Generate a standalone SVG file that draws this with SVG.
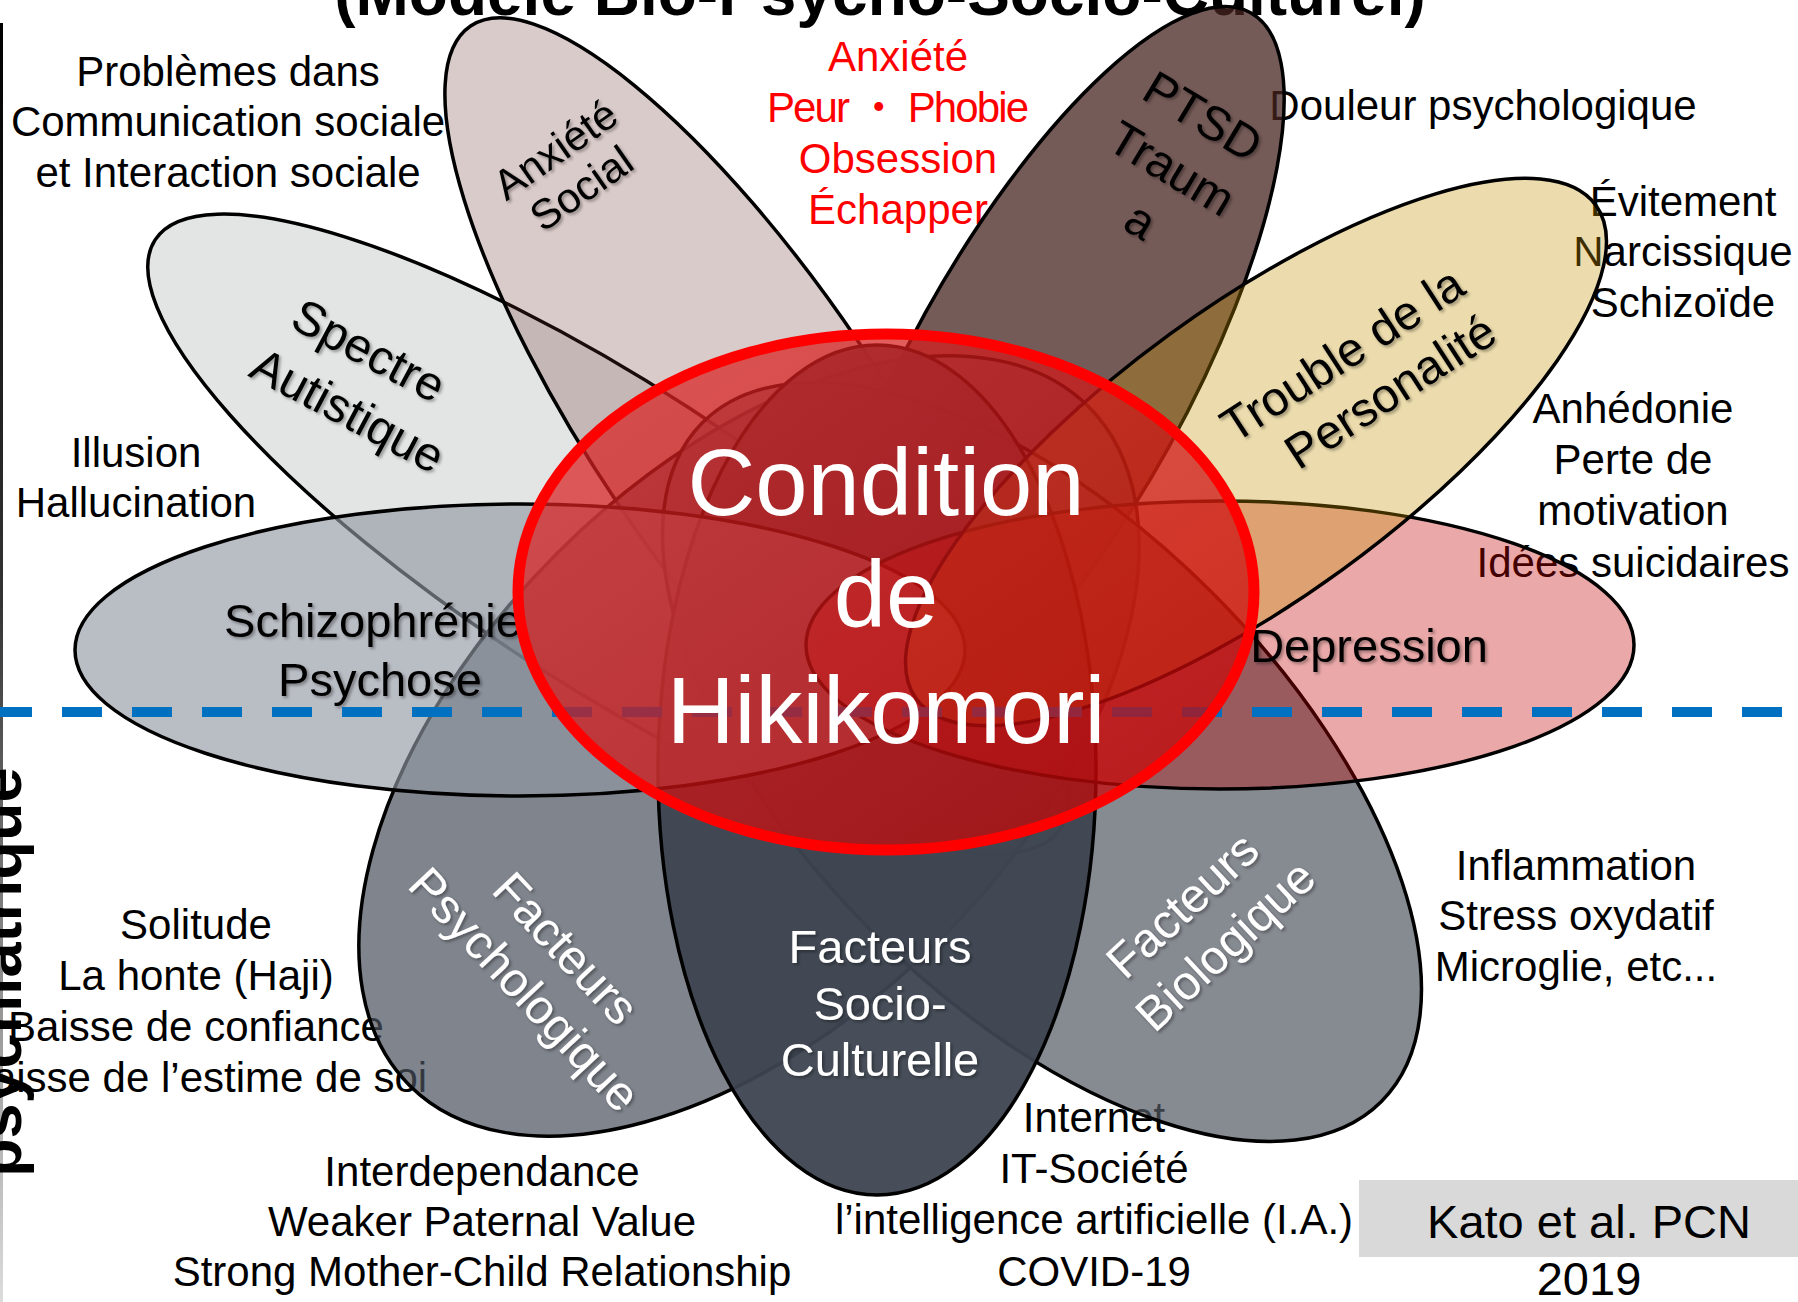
<svg xmlns="http://www.w3.org/2000/svg" width="1798" height="1302" viewBox="0 0 1798 1302">
<defs>
  <linearGradient id="leftLine" x1="0" y1="0" x2="0" y2="1">
    <stop offset="0" stop-color="#000"/>
    <stop offset="0.45" stop-color="#333"/>
    <stop offset="1" stop-color="#dcdcdc"/>
  </linearGradient>
  <linearGradient id="core" x1="0" y1="0" x2="1" y2="1">
    <stop offset="0" stop-color="rgb(222,40,40)"/>
    <stop offset="1" stop-color="rgb(195,0,0)"/>
  </linearGradient>
  <filter id="shadow" x="-10%" y="-20%" width="130%" height="150%">
    <feDropShadow dx="2" dy="2" stdDeviation="1.5" flood-color="#000" flood-opacity="0.35"/>
  </filter>
</defs>
<style>
  .t{font-family:"Liberation Sans",Arial,"Noto Sans CJK JP",sans-serif;font-size:42px;fill:#000;text-anchor:middle}
  .red{fill:#ff0000}
  .m{font-size:47px}
  .lbl{font-size:48px}
  .w{fill:#fff}
  .sh{filter:url(#shadow)}
  .big{font-size:94px;fill:#fff}
  .title{font-weight:bold;font-size:64px}
  .vert{font-weight:bold;font-size:63px;text-anchor:start}
  .petal{stroke:#000;stroke-width:3.5}
</style>
<rect width="1798" height="1302" fill="#fff"/>

<g id="title">
  <text class="t title" x="880" y="15">(Modèle Bio-Psycho-Socio-Culturel)</text>
</g>
<rect id="left-rule" x="0" y="23" width="3" height="1279" fill="url(#leftLine)"/>

<g id="notes">
  <g id="note-communication">
    <text class="t" x="228" y="86">Problèmes dans</text>
    <text class="t" x="228" y="136">Communication sociale</text>
    <text class="t" x="228" y="187">et Interaction sociale</text>
  </g>
  <g id="note-illusion">
    <text class="t" x="136" y="467">Illusion</text>
    <text class="t" x="136" y="517">Hallucination</text>
  </g>
  <g id="note-anxiete">
    <text class="t red" x="898" y="71">Anxiété</text>
    <text class="t red" x="898" y="122" textLength="262" lengthAdjust="spacing">Peur ・ Phobie</text>
    <text class="t red" x="898" y="173">Obsession</text>
    <text class="t red" x="898" y="224">Échapper</text>
  </g>
  <g id="note-douleur">
    <text class="t" x="1483" y="120">Douleur psychologique</text>
  </g>
  <g id="note-personalite">
    <text class="t" x="1683" y="216">Évitement</text>
    <text class="t" x="1683" y="266">Narcissique</text>
    <text class="t" x="1683" y="317">Schizoïde</text>
  </g>
  <g id="note-depression">
    <text class="t" x="1633" y="423">Anhédonie</text>
    <text class="t" x="1633" y="474">Perte de</text>
    <text class="t" x="1633" y="525">motivation</text>
    <text class="t" x="1633" y="577">Idées suicidaires</text>
  </g>
  <g id="note-bio">
    <text class="t" x="1576" y="880">Inflammation</text>
    <text class="t" x="1576" y="930">Stress oxydatif</text>
    <text class="t" x="1576" y="981">Microglie, etc...</text>
  </g>
  <g id="note-psycho">
    <text class="t" x="196" y="939">Solitude</text>
    <text class="t" x="196" y="990">La honte (Haji)</text>
    <text class="t" x="196" y="1041">Baisse de confiance</text>
    <text class="t" x="196" y="1092">Baisse de l’estime de soi</text>
  </g>
  <g id="note-family">
    <text class="t" x="482" y="1186">Interdependance</text>
    <text class="t" x="482" y="1236">Weaker Paternal Value</text>
    <text class="t" x="482" y="1286">Strong Mother-Child Relationship</text>
  </g>
  <g id="note-socio">
    <text class="t" x="1094" y="1132">Internet</text>
    <text class="t" x="1094" y="1183">IT-Société</text>
    <text class="t" x="1094" y="1234">l’intelligence artificielle (I.A.)</text>
    <text class="t" x="1094" y="1286">COVID-19</text>
  </g>
  <g id="vertical-label">
    <text class="t vert" transform="translate(21,1177) rotate(-90)">psychiatrique</text>
  </g>
  <g id="reference">
    <rect x="1359" y="1180" width="439" height="77" fill="#d9d9d9"/>
    <text class="t m" x="1589" y="1238">Kato et al. PCN</text>
    <text class="t m" x="1589" y="1295">2019</text>
  </g>
</g>

<g id="petals">
  <g id="petal-spectre">
    <ellipse class="petal" cx="608" cy="534" rx="540" ry="150" transform="rotate(33 608 534)" fill="rgb(208,212,212)" fill-opacity="0.6"/>
    <g class="sh">
      <text class="t lbl" transform="translate(369,350) rotate(28)" y="17">Spectre</text>
      <text class="t lbl" transform="translate(348,410) rotate(28)" y="17">Autistique</text>
    </g>
  </g>
  <g id="petal-anxiete-sociale">
    <ellipse class="petal" cx="739" cy="424" rx="480" ry="145" transform="rotate(56 739 424)" fill="rgb(103,47,39)" fill-opacity="0.25"/>
    <g class="sh">
      <text class="t" transform="translate(555,149) rotate(-35)" y="15">Anxiété</text>
      <text class="t" transform="translate(581,188) rotate(-35)" y="15">Social</text>
    </g>
  </g>
  <g id="petal-ptsd">
    <ellipse class="petal" cx="1047" cy="380" rx="420" ry="139" transform="rotate(119 1047 380)" fill="rgb(71,36,32)" fill-opacity="0.75"/>
    <g class="sh">
      <text class="t lbl" transform="translate(1203,116) rotate(31)" y="17">PTSD</text>
      <text class="t lbl" transform="translate(1172,168) rotate(31)" y="17">Traum</text>
      <text class="t lbl" transform="translate(1141,220) rotate(31)" y="17">a</text>
    </g>
  </g>
  <g id="petal-psychologique">
    <ellipse class="petal" cx="749" cy="746" rx="480" ry="272" transform="rotate(-45 749 746)" fill="rgb(74,81,92)" fill-opacity="0.7"/>
    <g class="sh">
      <text class="t lbl w" transform="translate(566,948) rotate(47)" y="17">Facteurs</text>
      <text class="t lbl w" transform="translate(525,989) rotate(47)" y="17">Psychologique</text>
    </g>
  </g>
  <g id="petal-biologique">
    <ellipse class="petal" cx="1042" cy="762" rx="480" ry="240" transform="rotate(45 1042 762)" fill="rgb(82,88,98)" fill-opacity="0.7"/>
    <g class="sh">
      <text class="t lbl w" transform="translate(1182,905) rotate(-43)" y="17">Facteurs</text>
      <text class="t lbl w" transform="translate(1225,945) rotate(-43)" y="17">Biologique</text>
    </g>
  </g>
  <g id="petal-socio-culturelle">
    <ellipse class="petal" cx="877" cy="770" rx="219" ry="425" fill="rgb(61,68,80)" fill-opacity="0.95"/>
    <g class="sh">
      <text class="t m w" x="880" y="963">Facteurs</text>
      <text class="t m w" x="880" y="1020">Socio-</text>
      <text class="t m w" x="880" y="1076">Culturelle</text>
    </g>
  </g>
  <g id="petal-schizophrenie">
    <ellipse class="petal" cx="520" cy="650" rx="445" ry="146" fill="rgb(146,152,163)" fill-opacity="0.64"/>
    <g class="sh">
      <text class="t m" x="373" y="637">Schizophrénie</text>
      <text class="t m" x="380" y="696">Psychose</text>
    </g>
  </g>
  <g id="petal-depression">
    <ellipse class="petal" cx="1220" cy="645" rx="414" ry="144" fill="rgb(194,0,0)" fill-opacity="0.34"/>
    <g class="sh">
      <text class="t m" x="1369" y="662">Depression</text>
    </g>
  </g>
  <g id="petal-personalite">
    <ellipse class="petal" cx="1256" cy="452" rx="420" ry="146" transform="rotate(-36 1256 452)" fill="rgb(196,145,0)" fill-opacity="0.32"/>
    <g class="sh">
      <text class="t lbl" transform="translate(1342,354) rotate(-33)" y="17">Trouble de la</text>
      <text class="t lbl" transform="translate(1390,391) rotate(-33)" y="17">Personalité</text>
    </g>
  </g>
</g>

<g id="connectors">
  <line id="divider" x1="-8" y1="712" x2="1800" y2="712" stroke="#0070c0" stroke-width="10" stroke-dasharray="40 30"/>
</g>

<g id="node-hikikomori">
  <ellipse cx="886" cy="592" rx="368" ry="258" fill="url(#core)" fill-opacity="0.72" stroke="#ff0000" stroke-width="11"/>
  <text class="t big" x="886" y="515">Condition</text>
  <text class="t big" x="886" y="627">de</text>
  <text class="t big" x="886" y="743">Hikikomori</text>
</g>
</svg>
